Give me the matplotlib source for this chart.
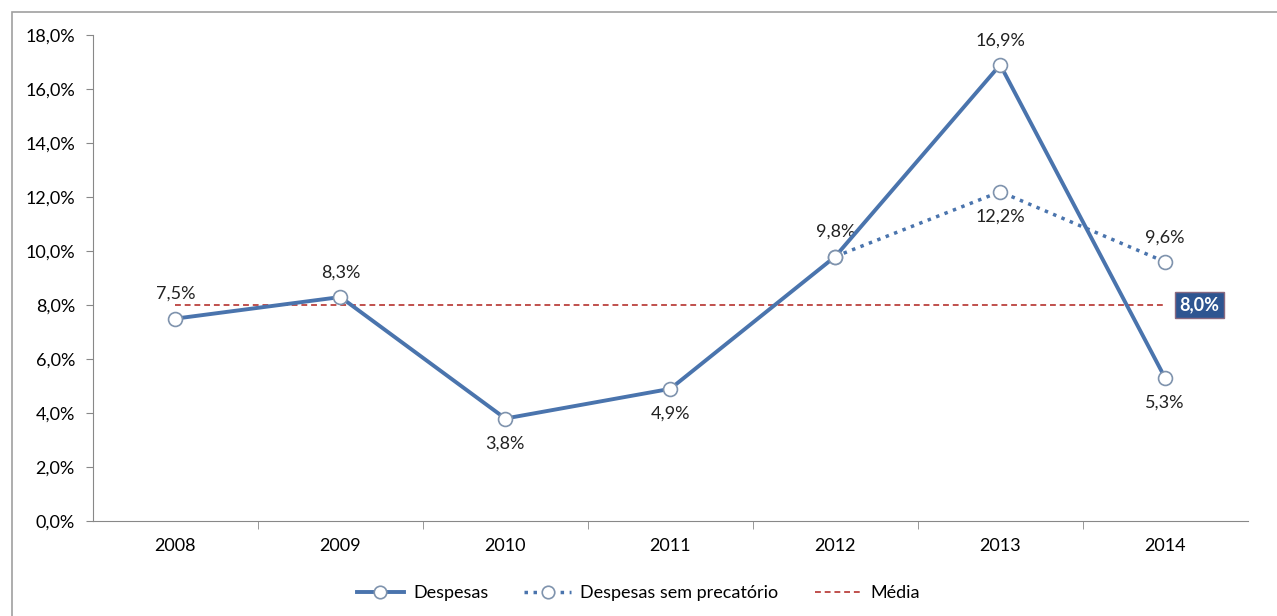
import matplotlib.pyplot as plt
from matplotlib.patches import Rectangle
from matplotlib.ticker import FuncFormatter
import numpy as np

plt.rcParams['font.family'] = ['Lato', 'DejaVu Sans']

anos = ["2008", "2009", "2010", "2011", "2012", "2013", "2014"]
despesas = [7.5, 8.3, 3.8, 4.9, 9.8, 16.9, 5.3]
sem_precatorio = [np.nan, np.nan, np.nan, np.nan, 9.8, 12.2, 9.6]
media = 8.0

# label placement: True = above the point
desp_above = [True, True, False, False, True, True, False]
sem_above = [None, None, None, None, None, False, True]

blue = "#4a74ad"
edge = "#7f93ad"
red = "#c0504d"
fs = 13


def pct(v, _=None):
    return f"{v:.1f}%".replace(".", ",")


fig = plt.figure(figsize=(12.77, 6.16), dpi=100)
ax = fig.add_axes([0.0728, 0.154, 0.9042, 0.789])

x = np.arange(len(anos))
ax.plot(x, sem_precatorio, color=blue, lw=2.5, ls=(0, (1, 1.6)),
        marker="o", ms=10, mfc="white", mec=edge, mew=1.2,
        label="Despesas sem precatório", zorder=3)
ax.plot(x, despesas, color=blue, lw=2.8, marker="o", ms=10,
        mfc="white", mec=edge, mew=1.2, label="Despesas", zorder=4)
ax.plot([x[0], x[-1]], [media, media], color=red, lw=1.4,
        ls=(0, (3, 2)), label="Média", zorder=2)

for xi, v, up in zip(x, despesas, desp_above):
    off = 12 if up else -12
    ax.annotate(pct(v), (xi, v), xytext=(0, off), textcoords="offset points",
                ha="center", va="bottom" if up else "top", fontsize=fs,
                color="#222222")
for xi, v, up in zip(x, sem_precatorio, sem_above):
    if up is None:
        continue
    off = 12 if up else -12
    ax.annotate(pct(v), (xi, v), xytext=(0, off), textcoords="offset points",
                ha="center", va="bottom" if up else "top", fontsize=fs,
                color="#222222")

ax.annotate(pct(media), (x[-1], media), xytext=(10, 0),
            textcoords="offset points", ha="left", va="center",
            fontsize=fs, fontweight="bold", color="white",
            bbox=dict(boxstyle="square,pad=0.25", fc="#2e5591", ec="#8a6a80", lw=1))

ax.set_xlim(-0.5, len(anos) - 0.5)
ax.set_ylim(0, 18)
ax.set_yticks(np.arange(0, 18.1, 2))
ax.yaxis.set_major_formatter(FuncFormatter(pct))
ax.set_xticks(x)
ax.set_xticklabels(anos)
ax.set_xticks(np.arange(0.5, len(anos) - 0.5, 1), minor=True)
ax.tick_params(axis="x", which="major", length=0, pad=12, labelsize=fs)
ax.tick_params(axis="x", which="minor", length=6, color="#888888", direction="out")
ax.tick_params(axis="y", length=5, color="#888888", labelsize=fs, pad=8)

for s in ["top", "right"]:
    ax.spines[s].set_visible(False)
for s in ["left", "bottom"]:
    ax.spines[s].set_color("#888888")

handles, labels = ax.get_legend_handles_labels()
order = [1, 0, 2]
fig.legend([handles[i] for i in order], [labels[i] for i in order],
           loc="center", bbox_to_anchor=(0.5, 0.037), ncol=3, frameon=False,
           fontsize=fs, handlelength=2.6, handletextpad=0.5,
           columnspacing=2.0, markerscale=0.9)

fig.patches.append(Rectangle((12 / 1277, -0.01), 1.0, (616 - 12) / 616 + 0.01,
                             transform=fig.transFigure, fill=False,
                             ec="#a0a0a0", lw=1.2))

fig.savefig("out.png", dpi=100)
